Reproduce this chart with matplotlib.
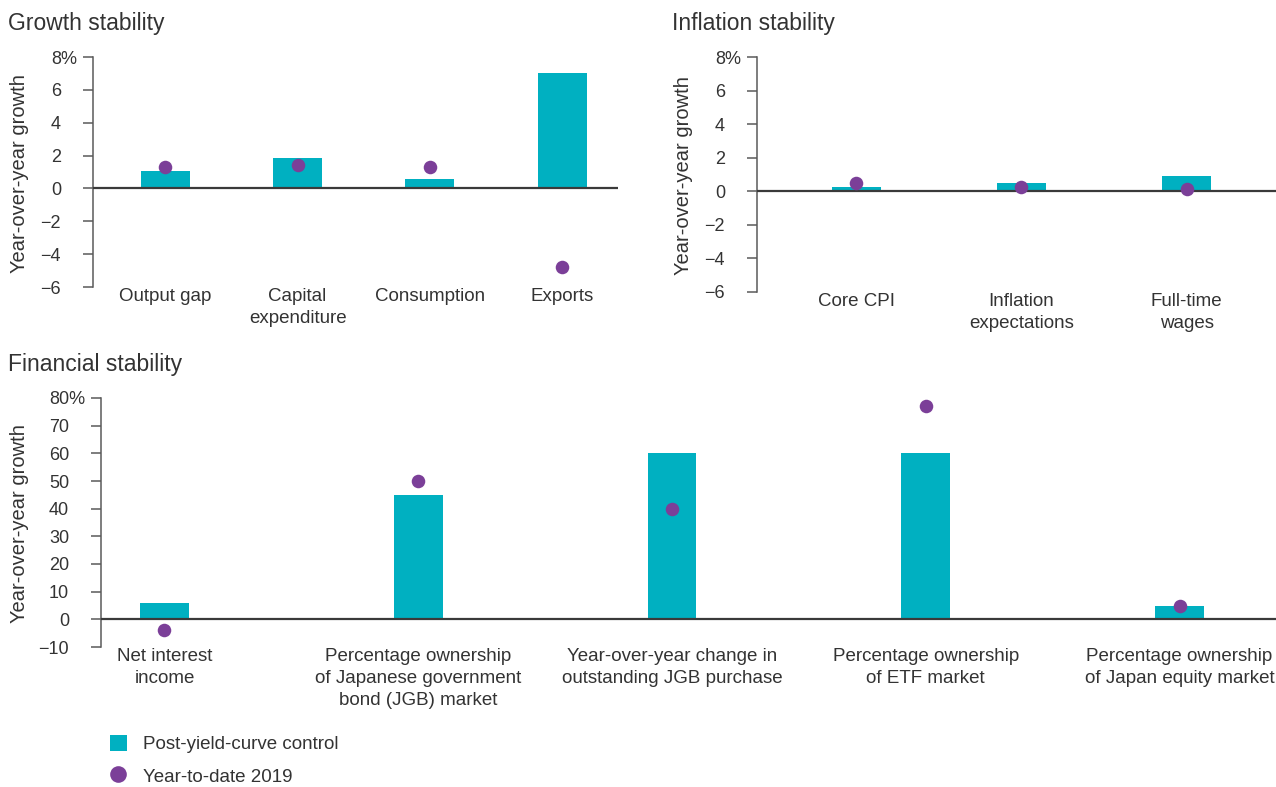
import numpy as np
import matplotlib
matplotlib.use("Agg")
import matplotlib.pyplot as plt
from matplotlib.transforms import ScaledTranslation
from matplotlib.lines import Line2D
from matplotlib.patches import Patch

plt.rcParams['font.family'] = ['Liberation Sans', 'DejaVu Sans']

TEAL = '#00B0C1'
PURPLE = '#7B3F98'
TXT = '#333333'
AXC = '#5a5a5a'

# data
growth_cats = ['Output gap', 'Capital\nexpenditure', 'Consumption', 'Exports']
growth_post = [1.05, 1.85, 0.6, 7.0]
growth_ytd = [1.3, 1.4, 1.3, -4.8]

infl_cats = ['Core CPI', 'Inflation\nexpectations', 'Full-time\nwages']
infl_post = [0.25, 0.5, 0.9]
infl_ytd = [0.5, 0.25, 0.12]

fin_cats = ['Net interest\nincome',
            'Percentage ownership\nof Japanese government\nbond (JGB) market',
            'Year-over-year change in\noutstanding JGB purchase',
            'Percentage ownership\nof ETF market',
            'Percentage ownership\nof Japan equity market']
fin_post = [6, 45, 60, 60, 5]
fin_ytd = [-4, 50, 40, 77, 5]

growth_ticks = [-6, -4, -2, 0, 2, 4, 6, 8]
fin_ticks = [-10, 0, 10, 20, 30, 40, 50, 60, 70, 80]

W, H = 1276, 787
fig = plt.figure(figsize=(W / 100, H / 100), dpi=100)


def px_axes(x0, y0, x1, y1):
    return fig.add_axes([x0 / W, 1 - y1 / H, (x1 - x0) / W, (y1 - y0) / H])


def panel(ax, cats, post, ytd, ticks, xlim, width, ylab_x):
    x = np.arange(len(cats))
    ax.bar(x, post, width=width, color=TEAL, zorder=2)
    ax.axhline(0, color='#3a3a3a', lw=1.6, zorder=3)
    ax.scatter(x, ytd, s=95, color=PURPLE, zorder=4, linewidths=0)
    ax.set_xlim(*xlim)
    ax.set_ylim(ticks[0], ticks[-1])
    for s in ['top', 'right', 'bottom']:
        ax.spines[s].set_visible(False)
    ax.spines['left'].set_color(AXC)
    ax.spines['left'].set_linewidth(1.1)
    ax.set_xticks(x, cats, fontsize=13.5, color=TXT)
    for lab in ax.get_xticklabels():
        lab.set_linespacing(1.38)
    ax.tick_params(axis='x', length=0, pad=1)
    labs = [str(t).replace('-', '\u2212') for t in ticks]
    labs[-1] = labs[-1] + '%'
    ax.set_yticks(ticks, labs)
    ax.tick_params(axis='y', length=7.5, width=1.1, color=AXC, labelsize=13,
                   labelcolor=TXT, pad=4)
    ax.set_ylabel('Year-over-year growth', fontsize=14.5, color=TXT)
    ax.yaxis.set_label_coords(ylab_x, 0.495)


ax1 = px_axes(93, 57, 618, 287)
panel(ax1, growth_cats, growth_post, growth_ytd, growth_ticks,
      (-0.545, 3.42), 0.37, -0.122)

ax2 = px_axes(757, 57, 1276, 292)
panel(ax2, infl_cats, infl_post, infl_ytd, growth_ticks,
      (-0.6, 2.54), 0.297, -0.124)

ax3 = px_axes(101, 398, 1276, 647)
panel(ax3, fin_cats, fin_post, fin_ytd, fin_ticks,
      (-0.25, 4.38), 0.193, -0.061)

# keep digits aligned: shift plain labels left by the width of "%"
r = fig.canvas.get_renderer()
t1 = fig.text(0, 0, '8%', fontsize=13)
t2 = fig.text(0, 0, '8', fontsize=13)
dx = t1.get_window_extent(r).width - t2.get_window_extent(r).width
t1.remove()
t2.remove()
for ax in (ax1, ax2, ax3):
    for lab in ax.get_yticklabels()[:-1]:
        lab.set_transform(lab.get_transform() +
                          ScaledTranslation(-dx / 100, 0, fig.dpi_scale_trans))

fig.text(8 / W, 1 - 30 / H, 'Growth stability', fontsize=16.5, color=TXT, va='baseline')
fig.text(672 / W, 1 - 30 / H, 'Inflation stability', fontsize=16.5, color=TXT, va='baseline')
fig.text(8 / W, 1 - 371 / H, 'Financial stability', fontsize=16.5, color=TXT, va='baseline')

handles = [Patch(facecolor=TEAL, edgecolor='none'),
           Line2D([], [], marker='o', ls='', color=PURPLE, ms=12, mew=0)]
leg = fig.legend(handles, ['Post-yield-curve control', 'Year-to-date 2019'],
                 loc='upper left', bbox_to_anchor=(110 / W, 1 - 735 / H),
                 frameon=False, fontsize=13.5, borderpad=0, borderaxespad=0,
                 handlelength=0.9, handleheight=0.9, handletextpad=0.85,
                 labelspacing=0.75)
for t in leg.get_texts():
    t.set_color(TXT)

plt.savefig('out.png', dpi=100)
